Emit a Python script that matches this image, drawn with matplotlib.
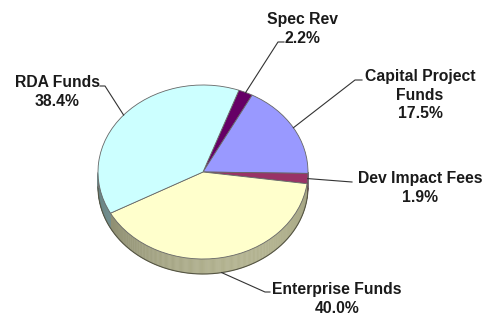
import numpy as np
import matplotlib
matplotlib.use('Agg')
import matplotlib.pyplot as plt
from matplotlib.patches import Polygon
import matplotlib.colors as mcolors

labels = ['Spec Rev', 'Capital Project\nFunds', 'Dev Impact Fees', 'Enterprise Funds', 'RDA Funds']
values = [2.2, 17.5, 1.9, 40.0, 38.4]
colors = ['#660066', '#9999FF', '#993366', '#FFFFCC', '#CCFFFF']

W, H = 484, 318
fig = plt.figure(figsize=(W / 100, H / 100), dpi=100)
ax = fig.add_axes([0, 0, 1, 1])
cx, cy, rx, ry = 203, 172, 105, 87
depth = 15 / ry

wedges, _ = ax.pie(values, colors=colors, startangle=70, counterclock=False, radius=1,
                   wedgeprops=dict(edgecolor='#666666', linewidth=0.6, zorder=3))
ax.set_aspect('auto')
ax.set_xlim(-cx / rx, (W - cx) / rx)
ax.set_ylim(-(H - cy) / ry, cy / ry)
ax.axis('off')


def px(x, y):
    return ((x - cx) / rx, (cy - y) / ry)


# side wall of the 3D pie
for w, c in zip(wedges, colors):
    base = np.array(mcolors.to_rgb(c))
    ts = np.linspace(w.theta1, w.theta2, max(2, int(abs(w.theta2 - w.theta1) * 2)))
    for a, b in zip(ts[:-1], ts[1:]):
        m = np.radians((a + b) / 2)
        if np.sin(m) >= 0:
            continue
        f = 0.56 + 0.14 * np.cos(m + np.radians(60))
        col = np.clip(base * f, 0, 1)
        ra, rb = np.radians(a), np.radians(b)
        pts = [(np.cos(ra), np.sin(ra)), (np.cos(rb), np.sin(rb)),
               (np.cos(rb), np.sin(rb) - depth), (np.cos(ra), np.sin(ra) - depth)]
        ax.add_patch(Polygon(pts, closed=True, facecolor=col, edgecolor=col, lw=0.3, zorder=1))

tt = np.linspace(np.pi, 2 * np.pi, 200)
ax.plot(np.cos(tt), np.sin(tt) - depth, color='#555544', lw=0.8, zorder=2)
ax.plot([-1, -1], [0, -depth], color='#777777', lw=0.6, zorder=2)
ax.plot([1, 1], [0, -depth], color='#777777', lw=0.6, zorder=2)

pcts = ['%.1f%%' % v for v in values]
text_pos = [(302, 29), (420, 95), (420, 188), (337, 299), (57, 92)]
elbows = [[(278, 42), (284, 42)], [(355, 80), (362, 80)], [(352, 182)],
          [(265, 292), (270, 292)], [(105, 86), (100, 86)]]

for w, lab, pct, tp, el in zip(wedges, labels, pcts, text_pos, elbows):
    mid = np.radians((w.theta1 + w.theta2) / 2)
    sx, sy = np.cos(mid), np.sin(mid)
    if np.sin(mid) < -0.5:
        sy -= depth
    pts = [(sx, sy)] + [px(*p) for p in el]
    ax.plot([p[0] for p in pts], [p[1] for p in pts], color='#333333', lw=0.8, zorder=4)
    ax.text(*px(*tp), lab + '\n' + pct, ha='center', va='center', fontsize=11.3,
            fontweight='bold', family='Liberation Sans', color='#1a1a1a',
            linespacing=1.3, zorder=5)

fig.savefig('out.png', dpi=100)
